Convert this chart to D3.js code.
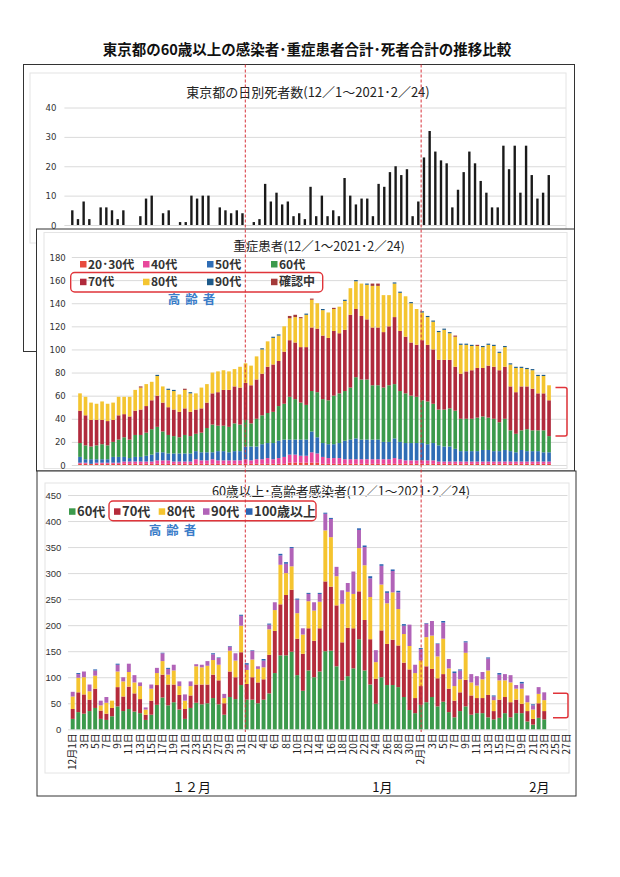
<!DOCTYPE html>
<html>
<head>
<meta charset="utf-8">
<script src="https://cdn.jsdelivr.net/npm/d3@7"></script>
<style>
  body { margin: 0; background: #fff; }
  svg text { font-family: "Noto Sans CJK JP", "Noto Sans", sans-serif; }
</style>
</head>
<body>
<div id="chart"></div>
<script>
// daily deaths, 12/1 ~ 2/23
const deaths = [5,2,8,2,0,6,6,5,2,5, 0,0,3,9,10,0,4,5,0,1, 1,10,9,10,10,0,6,5,4,5,
  4,0,1,2,14,8,11,7,8,3, 4,2,13,3,10,3,5,3,16,10, 7,9,9,3,14,13,18,20,17,19,
  3,8,23,32,25,22,21,6,12,18, 25,21,15,11,6,6,27,19,27,11, 27,17,9,11,17];

// severe patients by age, 12/1 ~ 2/24
const midAge2030 = [1,1,1,1,1,1,1,1,1,1, 1,1,1,1,1,1,1,1,1,1, 1,1,1,1,1,1,1,1,1,1,
  1,1,1,1,1,1,1,1,2,2, 2,2,2,2,1,1,1,1,1,1, 1,1,1,1,1,1,1,1,1,1,
  1,1,1,1,1,1,1,1,1,1, 1,1,1,1,1,1,1,1,1,1, 1,1,1,1,1,1];
const midAge40 = [1,1,0,1,1,1,1,1,2,2, 2,2,2,2,3,3,3,2,2,2, 2,4,3,3,4,3,3,3,3,3,
  4,3,4,4,5,4,5,6,7,7, 6,6,9,8,6,5,5,5,4,4, 4,4,4,4,4,4,4,5,4,3,
  3,3,3,3,3,2,2,2,2,2, 2,2,2,2,2,2,2,2,2,2, 2,2,2,2,2,2];
const midAge50 = [5,3,4,3,3,3,5,5,4,3, 4,4,5,6,7,7,6,7,7,7, 7,7,7,7,6,8,8,7,8,8,
  11,12,11,13,13,14,15,15,13,13, 14,14,18,14,12,12,12,13,16,17, 18,17,17,17,17,15,15,17,15,15,
  15,15,15,14,15,14,13,13,11,9, 9,9,9,10,10,9,9,10,9,8, 10,9,9,9,8,8];
const midAge60 = [12,12,11,12,13,12,13,15,17,16, 19,19,20,22,22,18,16,15,14,16, 15,15,17,21,24,22,22,22,24,23,
  23,20,24,25,26,27,30,31,37,35, 32,30,35,39,38,38,42,43,43,45, 53,52,52,47,47,47,49,47,44,43,
  41,40,37,37,34,31,32,33,33,28, 28,28,29,29,28,28,25,27,18,16, 17,19,18,18,19,14];
const midAge70 = [28,26,23,22,21,21,19,21,20,20, 21,22,23,25,27,25,24,23,22,23, 21,21,21,22,27,29,31,32,32,32,
  32,33,34,36,40,41,39,45,49,49, 48,50,55,55,55,54,56,52,53,63, 59,55,52,50,50,48,51,58,52,49,
  46,45,52,49,47,43,43,42,38,39, 41,42,43,42,45,45,45,45,38,36, 38,37,36,32,32,31];
const midAge80 = [15,16,15,14,16,15,15,16,15,17, 18,19,19,16,17,14,15,16,15,16, 16,14,18,16,18,18,17,16,15,18,
  17,17,20,21,22,23,22,22,19,22, 25,28,24,22,22,22,19,23,25,23, 24,28,30,36,36,32,27,29,33,35,
  34,31,24,24,24,24,26,23,26,25, 23,21,19,18,18,18,15,17,19,21, 16,15,16,15,15,13];
const midAge90 = [0,0,0,0,0,0,0,0,0,0, 0,0,0,0,1,0,1,1,0,0, 1,0,0,0,0,0,0,0,0,0,
  0,0,0,1,0,1,1,0,0,0, 0,1,0,0,1,0,0,0,1,0, 1,0,1,0,0,0,0,1,1,0,
  1,0,1,1,1,1,1,1,0,1, 1,1,0,1,1,1,1,1,1,1, 1,1,1,1,1,0];
const midUnknown = [0,0,0,0,0,0,0,0,0,0, 0,1,0,0,0,0,0,0,0,1, 0,0,0,0,0,0,0,0,0,0,
  0,0,0,0,0,0,0,0,2,2, 1,0,1,0,0,0,1,0,0,0, 0,0,0,2,2,0,0,0,0,0,
  0,0,0,0,0,0,0,0,1,0, 0,0,1,0,0,0,0,0,0,0, 0,0,0,0,0,0];

// infected aged 60+, 12/1 ~ 2/23
const botAge60 = [20,33,30,35,41,20,18,25,44,35, 39,34,31,18,28,47,61,46,52,38, 20,41,51,48,50,60,48,28,62,58,
  85,57,57,50,57,69,108,142,142,149, 104,74,113,100,111,150,151,121,94,102, 117,173,113,86,49,100,85,85,81,62,
  37,31,47,52,62,44,53,33,23,35, 44,28,31,31,23,19,22,31,23,31, 31,15,9,22,19];
const botAge70 = [19,38,37,22,37,16,12,16,37,28, 43,35,27,10,27,38,44,40,34,28, 19,24,35,38,36,45,46,22,49,42,
  63,30,43,40,39,74,81,98,116,119, 70,71,81,70,83,134,123,117,73,93, 77,92,97,87,48,90,79,87,80,66,
  78,29,36,69,54,54,53,45,32,36, 51,37,29,29,43,16,35,31,29,26, 18,20,11,28,16];
const botAge80 = [24,28,33,16,25,10,21,14,30,29, 28,21,25,10,23,23,26,19,27,17, 16,18,35,33,36,28,30,10,40,32,
  51,27,34,26,23,49,40,76,42,45, 49,37,52,58,51,98,95,56,74,69, 66,83,105,81,32,88,78,91,70,55,
  45,48,49,56,64,42,68,39,28,25, 52,25,24,36,47,21,37,32,38,21, 29,17,18,18,21];
const botAge90 = [9,7,11,13,10,9,11,0,13,8, 16,14,7,4,8,10,15,11,11,9, 12,9,4,5,9,11,13,8,8,14,
  19,10,17,5,13,9,15,18,18,35, 26,12,14,16,15,32,35,18,26,17, 43,35,35,36,23,36,20,41,32,16,
  41,16,22,26,28,24,31,18,25,17, 20,16,18,14,23,7,11,12,14,7, 10,13,8,13,15];
const botAge100 = [0,2,0,0,2,0,0,0,2,0, 0,0,0,0,0,0,1,2,0,0, 0,0,0,0,0,2,1,0,1,0,
  2,3,1,0,3,2,0,3,3,2, 2,0,2,0,2,2,2,0,0,0, 0,3,3,4,0,3,3,3,3,3,
  0,0,2,1,0,1,3,0,3,2, 2,0,0,0,2,2,3,0,0,0, 3,0,2,0,0];

const yTicksTop = [0, 10, 20, 30, 40];
const yTicksMid = [0, 20, 40, 60, 80, 100, 120, 140, 160, 180];
const yTicksBot = [0, 50, 100, 150, 200, 250, 300, 350, 400, 450];
const xTickLabels = ['12月1日','3日','5日','7日','9日','11日','13日','15日','17日','19日','21日','23日','25日','27日','29日','31日',
  '2日','4日','6日','8日','10日','12日','14日','16日','18日','20日','22日','24日','26日','28日','30日',
  '2月1日','3日','5日','7日','9日','11日','13日','15日','17日','19日','21日','23日','25日','27日'];
const monthLabels = ['１２月', '1月', '2月'];

const midLegend = [
  ['20･30代', '#e84a3c'], ['40代', '#e8489c'], ['50代', '#2f6db5'], ['60代', '#3c9a4c'],
  ['70代', '#b02a3c'], ['80代', '#f4c531'], ['90代', '#1d5a8a'], ['確認中', '#a43a3a']
];
const botLegend = [
  ['60代', '#3c9a4c'], ['70代', '#b52b3b'], ['80代', '#f5c42f'], ['90代', '#b163b8'], ['100歳以上', '#2a63b3']
];

const numFont = '"Liberation Sans Narrow", "DejaVu Sans Condensed", sans-serif';

const svg = d3.select('#chart').append('svg')
  .attr('width', 620).attr('height', 877)
  .style('background', '#fff');

svg.append('text')
  .attr('x', 307).attr('y', 55)
  .attr('text-anchor', 'middle')
  .style('font-size', '14.5px').style('font-weight', 'bold').style('fill', '#111')
  .text('東京都の60歳以上の感染者･重症患者合計･死者合計の推移比較');

function yAxis(scale, ticks, x0, x1, pad, font) {
  svg.append('g')
    .attr('transform', `translate(${x0},0)`)
    .call(d3.axisLeft(scale).tickValues(ticks).tickSize(-(x1 - x0)).tickPadding(pad))
    .call(g => g.select('.domain').remove())
    .call(g => g.selectAll('line').attr('stroke', '#dadada'))
    .call(g => g.selectAll('text').style('font-size', '9.5px').style('font-family', font).style('fill', '#333'));
}

// ---- top panel: deaths
svg.append('rect').attr('x', 23.5).attr('y', 64.5).attr('width', 551).attr('height', 287)
  .attr('fill', '#fff').attr('stroke', '#333');
svg.append('rect').attr('x', 30).attr('y', 73).attr('width', 536).attr('height', 170)
  .attr('fill', 'none').attr('stroke', '#e4e4e4');
svg.append('text')
  .attr('x', 308).attr('y', 97).attr('text-anchor', 'middle')
  .style('font-size', '13px').style('fill', '#222')
  .text('東京都の日別死者数(12／1～2021･2／24)');

const xTop = d3.scaleBand().domain(d3.range(deaths.length))
  .range([69.46, 551.6]).paddingInner(0.58).paddingOuter(0.29);
const yTop = d3.scaleLinear().domain([0, 40]).range([225, 107.5]);
yAxis(yTop, yTicksTop, 64.4, 565.7, 8, numFont);

svg.append('g').selectAll('rect')
  .data(deaths)
  .join('rect')
  .attr('x', (d, i) => xTop(i))
  .attr('y', d => yTop(d))
  .attr('width', xTop.bandwidth())
  .attr('height', d => yTop(0) - yTop(d))
  .attr('fill', '#1a1a1a');

// ---- middle panel: severe patients
svg.append('rect').attr('x', 36.5).attr('y', 229).attr('width', 538).attr('height', 242)
  .attr('fill', '#fff').attr('stroke', '#333');
svg.append('rect').attr('x', 44).attr('y', 232.5).attr('width', 523).attr('height', 236)
  .attr('fill', 'none').attr('stroke', '#e4e4e4');
svg.append('text')
  .attr('x', 319).attr('y', 251).attr('text-anchor', 'middle')
  .style('font-size', '12.5px').style('fill', '#222')
  .text('重症患者(12／1～2021･2／24)');

const midKeys = ['a2030', 'a40', 'a50', 'a60', 'a70', 'a80', 'a90', 'unk'];
const midRows = midAge2030.map((v, i) => ({
  a2030: v, a40: midAge40[i], a50: midAge50[i], a60: midAge60[i],
  a70: midAge70[i], a80: midAge80[i], a90: midAge90[i], unk: midUnknown[i]
}));
const midStack = d3.stack().keys(midKeys)(midRows);

const xMid = d3.scaleBand().domain(d3.range(midRows.length))
  .range([77.24, 551.8]).paddingInner(0.34).paddingOuter(0.17);
const yMid = d3.scaleLinear().domain([0, 180]).range([465, 257]);
yAxis(yMid, yTicksMid, 71.8, 566.8, 6, numFont);

svg.append('g').selectAll('g')
  .data(midStack)
  .join('g')
  .attr('fill', (s, i) => midLegend[i][1])
  .selectAll('rect')
  .data(s => s)
  .join('rect')
  .attr('x', (d, i) => xMid(i))
  .attr('y', d => yMid(d[1]))
  .attr('width', xMid.bandwidth())
  .attr('height', d => yMid(d[0]) - yMid(d[1]));

const midLeg = svg.append('g');
midLegend.forEach(([label, color], i) => {
  const x = [80, 143, 207, 271][i % 4];
  const y = i < 4 ? 264.3 : 282;
  midLeg.append('rect').attr('x', x).attr('y', y - 3.3).attr('width', 6.5).attr('height', 6.5).attr('fill', color);
  midLeg.append('text').attr('x', x + 8).attr('y', y + 4.3)
    .style('font-size', '12px').style('font-weight', 'bold').style('fill', '#333').text(label);
});
svg.append('rect').attr('x', 70.7).attr('y', 272.5).attr('width', 252).attr('height', 19.5)
  .attr('rx', 4).attr('fill', 'none').attr('stroke', '#e0343a').attr('stroke-width', 1.4);
svg.append('text').attr('x', 194).attr('y', 303.5).attr('text-anchor', 'middle')
  .style('font-size', '12.5px').style('font-weight', 'bold').style('fill', '#3a7cc8')
  .style('letter-spacing', '5px').text('高齢者');

// ---- bottom panel: infected 60+
svg.append('rect').attr('x', 37).attr('y', 471).attr('width', 539).attr('height', 325)
  .attr('fill', '#fff').attr('stroke', '#333');
svg.append('rect').attr('x', 45).attr('y', 483).attr('width', 524).attr('height', 290)
  .attr('fill', 'none').attr('stroke', '#e4e4e4');
svg.append('text')
  .attr('x', 341).attr('y', 496).attr('text-anchor', 'middle')
  .style('font-size', '12.7px').style('fill', '#222')
  .text('60歳以上･高齢者感染者(12／1～2021･2／24)');

const botKeys = ['a60', 'a70', 'a80', 'a90', 'a100'];
const botRows = botAge60.map((v, i) => ({
  a60: v, a70: botAge70[i], a80: botAge80[i], a90: botAge90[i], a100: botAge100[i]
}));
const botStack = d3.stack().keys(botKeys)(botRows);

const xBot = d3.scaleBand().domain(d3.range(xTickLabels.length * 2 - 1))
  .range([69.9, 569.5]).paddingInner(0.3).paddingOuter(0.15);
const yBot = d3.scaleLinear().domain([0, 450]).range([729.3, 495]);
yAxis(yBot, yTicksBot, 68, 567.5, 6.6, '"Liberation Sans", sans-serif');

svg.append('g').selectAll('g')
  .data(botStack)
  .join('g')
  .attr('fill', (s, i) => botLegend[i][1])
  .selectAll('rect')
  .data(s => s)
  .join('rect')
  .attr('x', (d, i) => xBot(i))
  .attr('y', d => yBot(d[1]))
  .attr('width', xBot.bandwidth())
  .attr('height', d => yBot(d[0]) - yBot(d[1]));

svg.append('g')
  .attr('transform', `translate(0,${yBot(0)})`)
  .call(d3.axisBottom(xBot).tickValues(xTickLabels.map((t, i) => i * 2)).tickFormat((d, i) => xTickLabels[i]).tickSize(0))
  .call(g => g.select('.domain').remove())
  .call(g => g.selectAll('text')
    .attr('transform', 'rotate(-90)')
    .attr('text-anchor', 'end')
    .attr('x', -4).attr('y', 0).attr('dy', '0.36em')
    .style('font-size', '10px').style('fill', '#222')
    .style('font-family', '"Noto Sans CJK JP", sans-serif'));

const monthAt = [21.5, 55.5, 83.5];
svg.append('g').selectAll('text')
  .data(monthLabels)
  .join('text')
  .attr('x', (d, i) => xBot(Math.floor(monthAt[i])) + xBot.step() * 0.5)
  .attr('y', 792)
  .attr('text-anchor', 'middle')
  .style('font-size', '13px').style('fill', '#111')
  .text(d => d);

const botLeg = svg.append('g');
botLegend.forEach(([label, color], i) => {
  const x = [69, 114, 158.7, 203, 246][i];
  botLeg.append('rect').attr('x', x).attr('y', 508.3).attr('width', 6.5).attr('height', 6.5).attr('fill', color);
  botLeg.append('text').attr('x', x + 8).attr('y', 516.3)
    .style('font-size', '13px').style('font-weight', 'bold').style('fill', '#333').text(label);
});
svg.append('rect').attr('x', 109).attr('y', 501).attr('width', 207).attr('height', 19.7)
  .attr('rx', 4).attr('fill', 'none').attr('stroke', '#e0343a').attr('stroke-width', 1.4);
svg.append('text').attr('x', 175).attr('y', 534.5).attr('text-anchor', 'middle')
  .style('font-size', '12.5px').style('font-weight', 'bold').style('fill', '#3a7cc8')
  .style('letter-spacing', '5px').text('高齢者');

// ---- red brackets on the last bars
function bracket(x0, x1, yA, yB) {
  svg.append('path')
    .attr('d', `M${x0},${yA} H${x1 - 2} Q${x1},${yA} ${x1},${yA + 2} V${yB - 2} Q${x1},${yB} ${x1 - 2},${yB} H${x0}`)
    .attr('fill', 'none').attr('stroke', '#e0343a').attr('stroke-width', 1.5);
}
const lastMid = midRows.length - 1;
bracket(555.5, 567, yMid(midAge2030[lastMid] + midAge40[lastMid] + midAge50[lastMid] + midAge60[lastMid] + midAge70[lastMid] + midAge80[lastMid] - 2),
  yMid(midAge2030[lastMid] + midAge40[lastMid] + midAge50[lastMid] + midAge60[lastMid]));
const lastBot = botRows.length - 1;
bracket(553, 568, yBot(botAge60[lastBot] + botAge70[lastBot] + botAge80[lastBot] + botAge90[lastBot] - 2),
  yBot(botAge60[lastBot] + 3));

// ---- red dashed month separators (12/31|1/1 and 1/31|2/1)
[31, 62].forEach(i => {
  const x = xTop(i) - (xTop.step() - xTop.bandwidth()) / 2;
  svg.append('line')
    .attr('x1', x).attr('x2', x).attr('y1', 64.5).attr('y2', 732)
    .attr('stroke', '#d8323a').attr('stroke-width', 1).attr('stroke-dasharray', '3,2');
});
</script>
</body>
</html>
